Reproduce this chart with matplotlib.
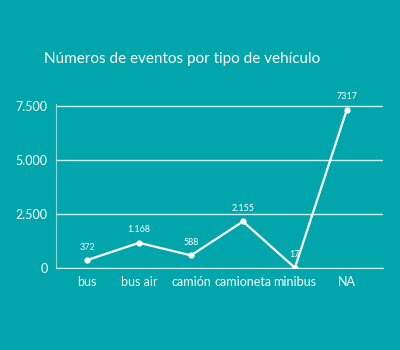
import matplotlib
matplotlib.use("Agg")

import matplotlib.pyplot as plt

# Events per vehicle type
tipos = ["bus", "bus air", "camión", "camioneta", "minibus", "NA"]
eventos = [372, 1168, 588, 2155, 17, 7317]
etiquetas = ["372", "1.168", "588", "2.155", "17", "7317"]
y_ticks = [0, 2500, 5000, 7500]
y_tick_labels = ["0", "2.500", "5.000", "7.500"]

BG = "#00a6ab"
GRID = "#c8f2f2"

plt.rcParams["font.family"] = ["Lato", "DejaVu Sans"]

fig = plt.figure(figsize=(4, 3.5), dpi=100, facecolor=BG)
ax = fig.add_axes([0.14, 0.234, 0.818, 0.47])
ax.set_facecolor(BG)

x = list(range(len(tipos)))
ax.plot(x, eventos, color="white", lw=1.6, marker="o", ms=3.5, zorder=3)

for xi, v, lab in zip(x, eventos, etiquetas):
    ax.annotate(lab, (xi, v), xytext=(0, 6), textcoords="offset points",
                ha="center", va="bottom", color="white", fontsize=6.5)

ax.set_xlim(-0.6, 5.7)
ax.set_ylim(0, 7600)
ax.set_yticks(y_ticks)
ax.set_yticklabels(y_tick_labels)
ax.set_xticks(x)
ax.set_xticklabels(tipos)
ax.grid(axis="y", color=GRID, lw=1.0)
ax.set_axisbelow(True)

for s in ["top", "right"]:
    ax.spines[s].set_visible(False)
ax.spines["left"].set_color(GRID)
ax.spines["left"].set_alpha(0.7)
ax.spines["bottom"].set_color(GRID)
ax.tick_params(length=0, colors="white", labelsize=9)
ax.tick_params(axis="y", pad=6)
ax.tick_params(axis="x", pad=6)

fig.text(0.11, 0.83, "Números de eventos por tipo de vehículo",
         color="white", fontsize=11, ha="left", va="center")

fig.savefig("out.png", dpi=100, facecolor=BG)
plt.close(fig)
